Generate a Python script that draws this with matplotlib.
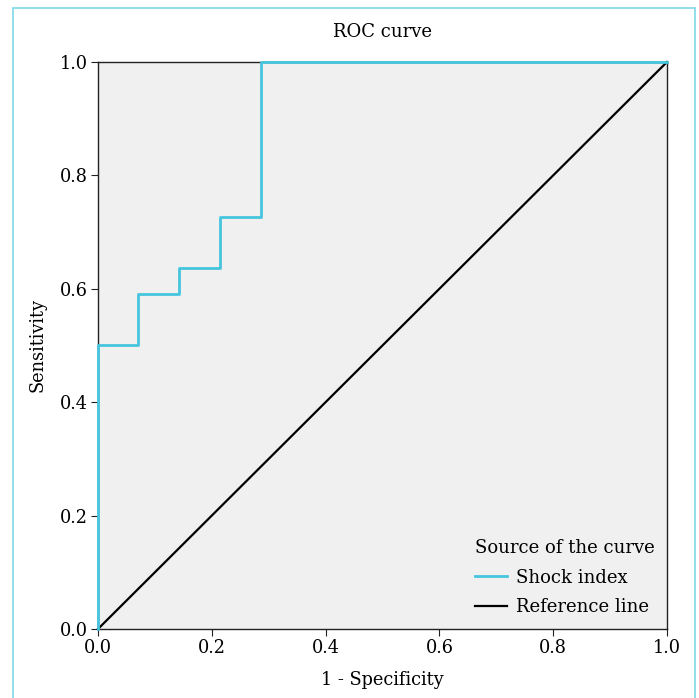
import matplotlib.pyplot as plt
from matplotlib.patches import Rectangle

plt.rcParams['font.family'] = ['DejaVu Serif']

# ROC curve for shock index (step points)
fpr = [0.0, 0.0, 0.071, 0.071, 0.143, 0.143, 0.214, 0.214, 0.286, 0.286, 1.0]
tpr = [0.0, 0.5, 0.5, 0.591, 0.591, 0.636, 0.636, 0.727, 0.727, 1.0, 1.0]
ref_x = [0.0, 1.0]
ref_y = [0.0, 1.0]
ticks = [0.0, 0.2, 0.4, 0.6, 0.8, 1.0]

fig = plt.figure(figsize=(6.99, 6.98), dpi=100)
fig.patches.append(Rectangle((0.0186, -0.01), 0.9757, 0.9985, transform=fig.transFigure,
                             fill=False, edgecolor='#7fd8e8', linewidth=1.2))

ax = fig.add_axes([0.1402, 0.0989, 0.814, 0.8123])
ax.set_facecolor('#f0f0f0')
ax.plot(fpr, tpr, color='#45c5de', linewidth=2.0, label='Shock index',
        zorder=4, clip_on=False)
ax.plot(ref_x, ref_y, color='black', linewidth=1.6, label='Reference line',
        zorder=3, clip_on=False)

ax.set_xlim(0, 1)
ax.set_ylim(0, 1)
ax.set_xticks(ticks)
ax.set_yticks(ticks)
ax.set_xticklabels([f'{t:.1f}' for t in ticks])
ax.set_yticklabels([f'{t:.1f}' for t in ticks])
ax.tick_params(labelsize=12.8, length=5, color='#222222', direction='out', pad=2)
for s in ax.spines.values():
    s.set_color('#222222')
    s.set_linewidth(1.0)

ax.set_title('ROC curve', fontsize=13, pad=18)
ax.set_xlabel('1 - Specificity', fontsize=12.8, labelpad=10)
ax.set_ylabel('Sensitivity', fontsize=12.8, labelpad=10)

leg = ax.legend(title='Source of the curve', loc='lower right', frameon=False,
                fontsize=13, title_fontsize=13, handlelength=1.8,
                handletextpad=0.5, labelspacing=0.65, borderaxespad=0.3,
                alignment='left')

fig.savefig('out.png', dpi=100)
